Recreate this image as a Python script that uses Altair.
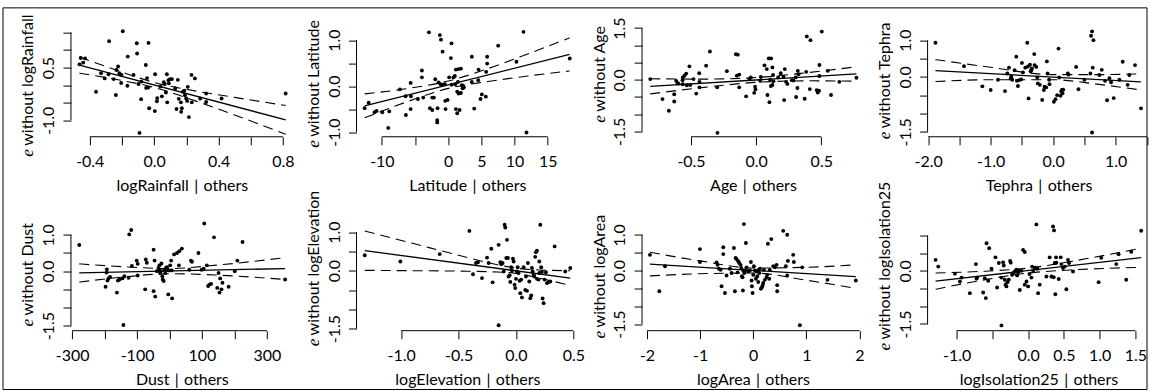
import altair as alt
import pandas as pd

FONT = "Lato"
W, H = 222, 109.2

# ---------------- Panel 1: logRainfall ----------------
p1_pts = [(-0.456,0.77),(-0.429,0.76),(-0.464,0.59),(-0.441,0.64),(-0.361,-0.19),(-0.330,0.34),(-0.307,0.19),(-0.284,0.31),(-0.280,1.25),(-0.251,0.17),(-0.238,-0.28),(-0.234,0.43),(-0.224,0.53),(-0.216,0.34),(-0.203,0.29),(-0.205,0.06),(-0.195,1.53),(-0.166,-0.02),(-0.164,0.81),(-0.128,0.29),(-0.106,0.90),(-0.108,1.19),(-0.035,1.20),(-0.097,0.03),(-0.081,-0.40),(-0.079,0.10),(-0.052,0.57),(-0.044,0.20),(-0.050,-0.08),(-0.037,-0.07),(-0.031,-0.66),(0.004,-0.74),(0.006,0.31),(-0.091,-1.36),(0.017,-0.46),(0.019,-0.37),(0.039,-0.04),(0.048,-0.32),(0.060,0.08),(0.066,0.03),(0.073,-0.21),(0.079,0.31),(0.081,-0.49),(0.089,0.14),(0.091,0.05),(0.099,0.17),(0.110,0.17),(0.131,-0.09),(0.139,-0.68),(0.147,0.15),(0.153,-0.39),(0.166,-0.49),(0.168,-0.76),(0.172,-0.66),(0.178,-0.19),(0.187,-0.16),(0.191,-0.29),(0.199,-0.38),(0.205,-0.45),(0.209,-0.05),(0.216,-0.91),(0.232,0.29),(0.234,-0.49),(0.253,0.19),(0.286,-0.38),(0.323,-0.24),(0.323,-0.48),(0.419,-0.38),(0.817,-0.24)]
p1_fit = [(-0.464,0.57),(0.817,-0.99)]
p1_band_x = [-0.464,-0.2,0.0,0.2,0.5,0.817]
p1_band_up = [0.80,0.37,0.075,-0.12,-0.35,-0.58]
p1_band_lo = [0.34,0.13,-0.065,-0.36,-0.85,-1.40]

# ---------------- Panel 2: Latitude ----------------
p2_pts = [(-12.6,-0.48),(-12.0,-0.36),(-11.1,-0.57),(-10.8,-0.54),(-9.94,-0.57),(-8.89,-0.55),(-9.04,-0.91),(-7.28,-0.07),(-6.43,-0.22),(-6.38,-0.63),(-5.67,0.07),(-5.62,-0.22),(-5.67,-0.50),(-4.57,-0.28),(-3.97,0.34),(-3.97,0.19),(-3.77,-0.25),(-2.91,1.17),(-2.76,-0.48),(-2.41,-0.52),(-2.41,-0.25),(-2.16,-0.25),(-1.96,0.15),(-1.66,-0.74),(-1.66,-0.79),(-1.61,-0.48),(-1.46,0.08),(-1.26,1.11),(-1.10,1.01),(-1.15,0.04),(-0.85,0.75),(-0.95,0.03),(-0.50,0.04),(-0.45,-0.32),(-0.40,-0.50),(-0.10,-0.30),(0.15,0.19),(0.40,0.61),(0.50,0.93),(0.50,0.03),(0.80,0.19),(1.00,0.22),(1.05,0.04),(1.15,0.36),(1.15,-0.50),(1.36,-0.59),(1.36,-0.12),(1.46,0.09),(1.56,-0.16),(1.71,-0.52),(1.91,-0.15),(2.06,0.02),(2.16,0.01),(2.16,-0.05),(2.36,-0.03),(1.51,0.37),(1.91,0.38),(3.56,0.64),(3.56,0.09),(3.92,-0.49),(4.52,0.13),(4.57,0.36),(4.87,-0.28),(5.07,-0.18),(5.67,-0.23),(5.72,0.31),(5.87,0.64),(5.87,0.49),(7.53,0.88),(10.29,0.53),(11.35,1.18),(11.80,-1.01),(18.32,0.60)]
p2_fit = [(-12.6,-0.43),(18.3,0.69)]
p2_band_x = [-12.6,-6.0,0.0,6.0,12.0,18.3]
p2_band_up = [-0.17,-0.05,0.11,0.38,0.70,1.05]
p2_band_lo = [-0.69,-0.33,-0.05,0.10,0.22,0.33]

# ---------------- Panel 3: Age ----------------
p3_pts = [(-0.813,0.02),(-0.719,-0.56),(-0.670,-0.90),(-0.629,-0.42),(-0.629,-0.63),(-0.614,-0.03),(-0.604,-0.09),(-0.596,-0.11),(-0.565,-0.01),(-0.563,-0.13),(-0.563,0.07),(-0.550,0.12),(-0.537,0.18),(-0.532,-0.16),(-0.512,0.39),(-0.506,-0.15),(-0.481,0.02),(-0.460,-0.40),(-0.437,0.19),(-0.435,-0.06),(-0.435,-0.22),(-0.384,0.41),(-0.355,0.82),(-0.299,-0.22),(-0.297,-1.54),(-0.225,0.25),(-0.156,0.74),(-0.141,0.73),(-0.148,0.12),(-0.130,0.15),(-0.130,-0.22),(-0.077,-0.48),(-0.051,0.02),(-0.041,0.07),(-0.015,-0.38),(-0.008,-0.20),(-0.005,-0.28),(0.031,-0.03),(0.036,0.08),(0.064,0.42),(0.082,0.31),(0.087,-0.44),(0.097,0.62),(0.115,0.62),(0.102,-0.65),(0.107,0.00),(0.113,-0.18),(0.125,-0.15),(0.125,0.36),(0.130,0.14),(0.133,-0.04),(0.169,0.07),(0.189,0.19),(0.210,0.09),(0.215,-0.59),(0.220,0.31),(0.230,-0.06),(0.240,-0.12),(0.274,-0.01),(0.286,-0.02),(0.304,0.07),(0.307,-0.50),(0.317,-0.24),(0.320,0.26),(0.325,0.16),(0.373,-0.55),(0.384,0.23),(0.389,1.26),(0.417,1.15),(0.412,-0.27),(0.465,-0.30),(0.473,-0.37),(0.483,-0.32),(0.486,0.43),(0.486,0.11),(0.504,1.40),(0.550,0.26),(0.575,-0.44),(0.639,-0.06),(0.770,0.06)]
p3_fit = [(-0.813,-0.19),(0.770,0.17)]
p3_band_x = [-0.813,-0.4,0.0,0.4,0.770]
p3_band_up = [0.03,0.02,0.065,0.21,0.38]
p3_band_lo = [-0.41,-0.22,-0.075,-0.03,-0.04]

# ---------------- Panel 4: Tephra ----------------
p4_pts = [(-1.883,0.93),(-1.426,0.29),(-1.133,-0.26),(-1.000,-0.36),(-0.883,-0.08),(-0.771,-0.39),(-0.734,0.09),(-0.707,0.25),(-0.681,-0.05),(-0.670,0.01),(-0.654,-0.08),(-0.617,0.18),(-0.590,0.55),(-0.580,-0.11),(-0.564,-0.25),(-0.543,-0.09),(-0.511,-0.07),(-0.500,0.38),(-0.484,0.12),(-0.447,0.25),(-0.415,0.93),(-0.404,0.28),(-0.394,-0.59),(-0.372,0.33),(-0.362,0.15),(-0.351,0.18),(-0.340,0.23),(-0.303,0.62),(-0.298,0.32),(-0.271,0.27),(-0.255,-0.02),(-0.245,-0.18),(-0.213,-0.22),(-0.176,-0.63),(-0.149,-0.36),(-0.138,-0.27),(-0.112,-0.29),(-0.101,0.42),(-0.090,0.09),(-0.064,-0.08),(-0.059,-0.20),(0.011,-0.68),(0.037,-0.61),(0.064,-0.50),(0.085,0.77),(0.096,-0.02),(0.117,-0.52),(0.128,-0.40),(0.138,-0.36),(0.149,-0.45),(0.160,-0.35),(0.234,0.09),(0.245,0.06),(0.367,0.27),(0.404,-0.34),(0.500,-0.08),(0.606,1.12),(0.622,1.24),(0.644,1.00),(0.596,0.09),(0.633,0.25),(0.622,-1.52),(0.739,0.05),(0.777,0.19),(0.830,-0.11),(0.862,-0.64),(0.899,-0.04),(0.926,-0.15),(0.968,-0.58),(1.059,-0.08),(1.112,0.41),(1.191,-0.22),(1.218,0.05),(1.309,0.32),(1.404,-0.86)]
p4_fit = [(-1.883,0.17),(1.404,-0.14)]
p4_band_x = [-1.883,-1.0,0.0,0.7,1.404]
p4_band_up = [0.47,0.26,0.06,0.06,0.08]
p4_band_lo = [-0.13,-0.08,-0.08,-0.20,-0.36]

# ---------------- Panel 5: Dust ----------------
p5_pts = [(-278,0.72),(-197,-0.43),(-194,-0.04),(-193,0.05),(-191,-0.26),(-188,-0.20),(-183,-0.16),(-162,-0.59),(-159,-0.26),(-154,-0.23),(-145,-0.20),(-139,-0.14),(-126,-0.18),(-124,1.01),(-118,1.13),(-116,0.14),(-142,-1.48),(-101,0.29),(-98,0.20),(-98,-0.12),(-75,-0.50),(-73,0.32),(-70,0.23),(-49,-0.55),(-49,0.59),(-44,-0.70),(-46,0.29),(-39,0.00),(-34,0.09),(-32,0.05),(-31,0.16),(-29,-0.05),(-27,0.00),(-25,0.21),(-22,-0.14),(-21,-0.23),(-18,-0.27),(-16,0.03),(-13,-0.05),(-11,0.09),(-8,0.11),(-6,0.03),(-4,-0.64),(-1,0.02),(2,0.16),(5,0.29),(7,0.02),(8,-0.75),(14,0.46),(23,0.50),(29,0.16),(30,0.55),(38,0.62),(61,0.04),(66,0.29),(69,0.26),(89,0.50),(99,0.04),(105,0.07),(107,1.31),(115,0.16),(119,-0.41),(123,-0.37),(128,-0.35),(137,0.93),(147,-0.46),(151,-0.05),(154,-0.59),(156,-0.20),(160,-0.50),(163,-0.32),(182,-0.43),(201,0.00),(209,0.29),(225,0.80),(356,-0.23)]
p5_fit = [(-278,-0.05),(356,0.07)]
p5_band_x = [-278,-140,0,150,356]
p5_band_up = [0.20,0.12,0.07,0.17,0.37]
p5_band_lo = [-0.30,-0.16,-0.07,-0.11,-0.23]

# ---------------- Panel 6: logElevation ----------------
p6_pts = [(-1.317,0.40),(-1.007,0.24),(-0.664,0.43),(-0.406,1.03),(-0.374,-0.09),(-0.348,0.20),(-0.331,0.22),(-0.296,-0.19),(-0.252,0.34),(-0.238,0.20),(-0.215,0.57),(-0.203,-0.30),(-0.151,0.67),(-0.136,0.22),(-0.128,0.17),(-0.116,0.20),(-0.107,-0.02),(-0.099,1.19),(-0.093,1.12),(-0.084,0.33),(-0.078,0.80),(-0.070,0.33),(-0.064,-0.15),(-0.055,-0.12),(-0.049,-0.29),(-0.041,0.09),(-0.035,0.00),(-0.026,0.31),(-0.020,0.24),(-0.012,-0.36),(-0.006,-0.45),(0.000,-0.21),(0.009,-0.02),(0.015,0.09),(0.023,-0.06),(0.032,-0.26),(0.038,-0.58),(0.046,-0.23),(0.052,-0.69),(0.067,0.09),(0.081,-0.50),(0.087,-0.15),(0.096,-0.52),(0.104,0.20),(0.116,-0.28),(0.125,-0.71),(0.133,-0.64),(0.139,0.07),(0.145,-0.02),(0.154,-0.10),(0.160,-0.15),(0.168,0.36),(0.174,0.48),(0.183,0.52),(0.183,-0.21),(0.197,-0.23),(0.203,-0.06),(0.203,0.24),(0.212,1.19),(0.220,0.09),(0.226,-0.03),(0.232,-0.72),(0.241,-0.84),(0.249,-0.23),(0.261,-0.04),(0.270,-0.32),(0.284,-0.29),(0.299,-0.28),(0.337,0.63),(0.429,-0.02),(0.473,0.07),(-0.151,-1.41)]
p6_fit = [(-1.317,0.52),(0.473,-0.19)]
p6_band_x = [-1.317,-0.9,-0.5,-0.2,0.0,0.2,0.473]
p6_band_up = [1.03,0.71,0.40,0.18,0.067,0.02,0.0]
p6_band_lo = [0.01,0.0,-0.01,-0.03,-0.07,-0.19,-0.38]

# ---------------- Panel 7: logArea ----------------
p7_pts = [(-1.944,0.44),(-1.768,-0.58),(-1.661,0.12),(-1.003,0.60),(-1.003,0.24),(-0.690,0.23),(-0.671,0.16),(-0.646,0.05),(-0.614,0.02),(-0.596,-0.44),(-0.564,0.65),(-0.564,0.46),(-0.533,-0.63),(-0.502,-0.14),(-0.439,0.05),(-0.408,-0.07),(-0.364,0.63),(-0.345,-0.58),(-0.332,0.35),(-0.313,0.32),(-0.295,-0.05),(-0.282,0.26),(-0.263,0.21),(-0.238,0.16),(-0.226,0.07),(-0.213,-0.16),(-0.201,-0.19),(-0.194,-0.56),(-0.188,0.00),(-0.176,1.30),(-0.169,-0.07),(-0.157,0.00),(-0.138,0.77),(-0.125,0.09),(-0.094,-0.02),(-0.063,0.00),(-0.044,0.24),(-0.031,-0.28),(-0.025,-0.44),(-0.013,-0.63),(0.000,-0.12),(0.013,0.12),(0.031,0.00),(0.050,-0.23),(0.063,-0.02),(0.075,-0.16),(0.094,-0.32),(0.100,0.02),(0.113,-0.07),(0.125,0.05),(0.144,-0.51),(0.163,-0.47),(0.176,-0.42),(0.188,-0.35),(0.201,0.02),(0.219,-0.26),(0.251,-0.19),(0.263,-0.12),(0.276,0.75),(0.301,-0.23),(0.313,0.02),(0.339,0.88),(0.376,0.12),(0.408,0.09),(0.439,0.16),(0.451,-0.41),(0.451,-0.58),(0.564,1.11),(0.614,0.12),(0.639,1.00),(0.639,-0.14),(0.652,0.27),(0.752,0.44),(0.765,0.24),(0.922,0.09),(1.398,-0.26),(1.931,-0.28),(0.878,-1.53)]
p7_fit = [(-1.944,0.18),(1.931,-0.17)]
p7_band_x = [-1.944,-1.0,0.0,1.0,1.931]
p7_band_up = [0.51,0.27,0.07,0.09,0.16]
p7_band_lo = [-0.15,-0.09,-0.07,-0.27,-0.50]

# ---------------- Panel 8: logIsolation25 ----------------
p8_pts = [(-1.293,0.31),(-1.256,0.12),(-1.023,-0.08),(-0.953,-0.30),(-0.930,-0.19),(-0.814,-0.63),(-0.730,0.19),(-0.721,-0.22),(-0.712,-0.19),(-0.628,-0.61),(-0.605,-0.21),(-0.591,-0.77),(-0.581,0.78),(-0.544,0.64),(-0.558,-0.28),(-0.512,0.06),(-0.456,0.38),(-0.433,-0.47),(-0.409,0.22),(-0.372,-0.19),(-0.349,0.24),(-0.340,0.15),(-0.326,-0.25),(-0.316,-0.39),(-0.302,-0.44),(-0.288,-0.32),(-0.270,-0.25),(-0.251,0.28),(-0.242,0.23),(-0.223,-0.11),(-0.214,-0.07),(-0.195,-0.04),(-0.177,0.00),(-0.163,0.03),(-0.153,-0.13),(-0.140,-0.04),(-0.130,0.01),(-0.116,-0.54),(-0.093,0.00),(-0.070,0.59),(-0.047,0.53),(-0.047,-0.39),(-0.023,-0.30),(0.000,-0.44),(0.019,-0.09),(0.047,-0.19),(0.056,0.12),(0.070,0.00),(0.093,0.08),(0.102,0.09),(0.116,1.31),(0.130,0.06),(0.140,-0.63),(0.163,-0.39),(0.256,-0.16),(0.302,0.38),(0.326,-0.16),(0.349,1.25),(0.363,1.14),(0.358,-0.18),(0.372,0.22),(0.381,-0.66),(0.391,0.38),(0.395,0.23),(0.428,-0.23),(0.456,0.38),(0.465,0.19),(0.488,0.08),(0.512,0.12),(0.535,-0.52),(0.558,0.31),(0.572,0.22),(0.628,-0.02),(0.986,-0.32),(1.023,0.37),(1.233,0.19),(1.265,0.47),(1.372,-0.25),(1.442,0.54),(1.581,1.13),(-0.372,-1.54)]
p8_fit = [(-1.293,-0.29),(1.581,0.37)]
p8_band_x = [-1.293,-0.6,0.0,0.6,1.1,1.581]
p8_band_up = [-0.06,-0.01,0.077,0.265,0.45,0.64]
p8_band_lo = [-0.52,-0.25,-0.063,0.025,0.07,0.10]

# ---------------- axis ticks / labels ----------------
NAMES = ["logRainfall", "Latitude", "Age", "Tephra", "Dust", "logElevation", "logArea", "logIsolation25"]
X_TICKS = [
    [(-0.4, "-0.4"), (-0.2, ""), (0.0, "0.0"), (0.2, ""), (0.4, "0.4"), (0.6, ""), (0.8, "0.8")],
    [(-10, "-10"), (-5, ""), (0, "0"), (5, "5"), (10, "10"), (15, "15")],
    [(-0.5, "-0.5"), (0.0, "0.0"), (0.5, "0.5")],
    [(-2.0, "-2.0"), (-1.5, ""), (-1.0, "-1.0"), (-0.5, ""), (0.0, "0.0"), (0.5, ""), (1.0, "1.0"), (1.5, "")],
    [(-300, "-300"), (-200, ""), (-100, "-100"), (0, ""), (100, "100"), (200, ""), (300, "300")],
    [(-1.0, "-1.0"), (-0.5, "-0.5"), (0.0, "0.0"), (0.5, "0.5")],
    [(-2, "-2"), (-1, "-1"), (0, "0"), (1, "1"), (2, "2")],
    [(-1.0, "-1.0"), (-0.5, ""), (0.0, "0.0"), (0.5, "0.5"), (1.0, "1.0"), (1.5, "1.5")],
]
Y_STD = [(-1.5, "-1.5"), (-1.0, ""), (-0.5, ""), (0.0, "0.0"), (0.5, ""), (1.0, "1.0")]
Y_TICKS = [
    [(-1.0, "-1.0"), (-0.5, ""), (0.0, ""), (0.5, "0.5"), (1.0, ""), (1.5, "")],
    [(-1.0, "-1.0"), (-0.5, ""), (0.0, "0.0"), (0.5, ""), (1.0, "1.0")],
    [(-1.5, "-1.5"), (-1.0, ""), (-0.5, ""), (0.0, "0.0"), (0.5, ""), (1.0, ""), (1.5, "1.5")],
    Y_STD, Y_STD, Y_STD, Y_STD,
    [(-1.5, "-1.5"), (-1.0, ""), (-0.5, ""), (0.0, "0.0"), (0.5, ""), (1.0, "")],
]
X_DOM = [[-0.517, 0.861], [-13.83, 19.61], [-0.876, 0.827], [-2.009, 1.539],
         [-303.6, 379.5], [-1.389, 0.543], [-2.093, 2.082], [-1.405, 1.696]]
Y_DOM = [[-1.469, 1.634], [-1.102, 1.272], [-1.654, 1.514], [-1.636, 1.342],
         [-1.637, 1.363], [-1.552, 1.272], [-1.683, 1.370], [-1.689, 1.390]]
E_POS = [129.2, 120.2, 95.2, 111.7, 104.9, 124.9, 116.9, 129.0]

PTS = [p1_pts, p2_pts, p3_pts, p4_pts, p5_pts, p6_pts, p7_pts, p8_pts]
FITS = [p1_fit, p2_fit, p3_fit, p4_fit, p5_fit, p6_fit, p7_fit, p8_fit]
BANDS = [(p1_band_x, p1_band_up, p1_band_lo), (p2_band_x, p2_band_up, p2_band_lo),
         (p3_band_x, p3_band_up, p3_band_lo), (p4_band_x, p4_band_up, p4_band_lo),
         (p5_band_x, p5_band_up, p5_band_lo), (p6_band_x, p6_band_up, p6_band_lo),
         (p7_band_x, p7_band_up, p7_band_lo), (p8_band_x, p8_band_up, p8_band_lo)]

GAP = "\u2004"


def lab_expr(pairs):
    s = ""
    for v, t in pairs:
        s += f"abs(datum.value - ({v})) < 1e-6 ? '{t}' : "
    return s + "''"


def panel(i):
    xt, yt = X_TICKS[i], Y_TICKS[i]
    xs = alt.Scale(domain=X_DOM[i], nice=False, zero=False)
    ys = alt.Scale(domain=Y_DOM[i], nice=False, zero=False)
    xaxis = alt.Axis(values=[v for v, _ in xt], labelExpr=lab_expr(xt),
                     title=NAMES[i] + GAP + "|" + GAP + "others",
                     domain=False, grid=False, tickSize=8, tickColor="black", tickWidth=1,
                     labelColor="black", labelFont=FONT, labelFontSize=16, labelPadding=9,
                     labelOverlap=False, labelFlush=False, labelAngle=0,
                     titleFont=FONT, titleFontSize=16, titleFontWeight="normal",
                     titleColor="black", titlePadding=8)
    yaxis = alt.Axis(values=[v for v, _ in yt], labelExpr=lab_expr(yt), title=None,
                     domain=False, grid=False, tickSize=8, tickColor="black", tickWidth=1,
                     labelColor="black", labelFont=FONT, labelFontSize=16, labelPadding=9.5,
                     labelOverlap=False, labelFlush=False, labelAngle=270,
                     labelAlign="center", labelBaseline="alphabetic")

    def X(f):
        return alt.X(f, type="quantitative", scale=xs, axis=xaxis)

    def Y(f):
        return alt.Y(f, type="quantitative", scale=ys, axis=yaxis)

    pts = pd.DataFrame(PTS[i], columns=["x", "y"])
    points = alt.Chart(pts).mark_circle(size=15, color="black", opacity=1).encode(x=X("x"), y=Y("y"))
    fit = alt.Chart(pd.DataFrame(FITS[i], columns=["x", "y"])).mark_line(
        color="black", strokeWidth=1.3).encode(x=X("x"), y=Y("y"))
    bx, bu, bl = BANDS[i]
    band_df = pd.DataFrame({"x": bx + bx, "y": bu + bl, "s": ["u"] * len(bx) + ["l"] * len(bx)})
    bands = alt.Chart(band_df).mark_line(color="black", strokeWidth=1.1, strokeDash=[10, 6],
                                         interpolate="monotone").encode(
        x=X("x"), y=Y("y"), detail="s:N")
    xd = pd.DataFrame({"x": [xt[0][0]], "x_end": [xt[-1][0]]})
    xline = alt.Chart(xd).mark_rule(color="black", strokeWidth=1).encode(
        x=X("x"), x2="x_end:Q", y=alt.value(H))
    yd = pd.DataFrame({"y": [yt[0][0]], "y_end": [yt[-1][0]]})
    yline = alt.Chart(yd).mark_rule(color="black", strokeWidth=1).encode(
        y=Y("y"), y2="y_end:Q", x=alt.value(0))
    e_txt = alt.Chart(pd.DataFrame({"t": ["e"]})).mark_text(
        font="Liberation Serif", fontStyle="italic", fontSize=17, angle=270, align="left",
        baseline="alphabetic", color="black").encode(
        text="t:N", x=alt.value(-37.5), y=alt.value(E_POS[i]))
    w_txt = alt.Chart(pd.DataFrame({"t": ["without " + NAMES[i]]})).mark_text(
        font=FONT, fontSize=16, angle=270, align="left", baseline="alphabetic",
        color="black").encode(
        text="t:N", x=alt.value(-37.5), y=alt.value(E_POS[i] - 11))
    layers = [points, fit, bands, xline, yline, e_txt, w_txt]
    if i == 0:
        frame = alt.Chart(pd.DataFrame({"k": [0]})).mark_rect(
            fillOpacity=0, stroke="black", strokeWidth=1).encode(
            x=alt.value(-68), x2=alt.value(1077), y=alt.value(-19.8), y2=alt.value(362.2))
        layers.append(frame)
    return alt.layer(*layers).properties(width=W, height=H)


chart = alt.concat(*[panel(i) for i in range(8)], columns=4,
                   spacing={"row": 84.1, "column": 63.8}, bounds="flush").properties(
    padding={"left": 2, "top": 6.5, "right": 0, "bottom": 0}
).configure(background="white").configure_view(strokeWidth=0)

chart.save("out.html", embed_options={"renderer": "svg", "actions": False})
